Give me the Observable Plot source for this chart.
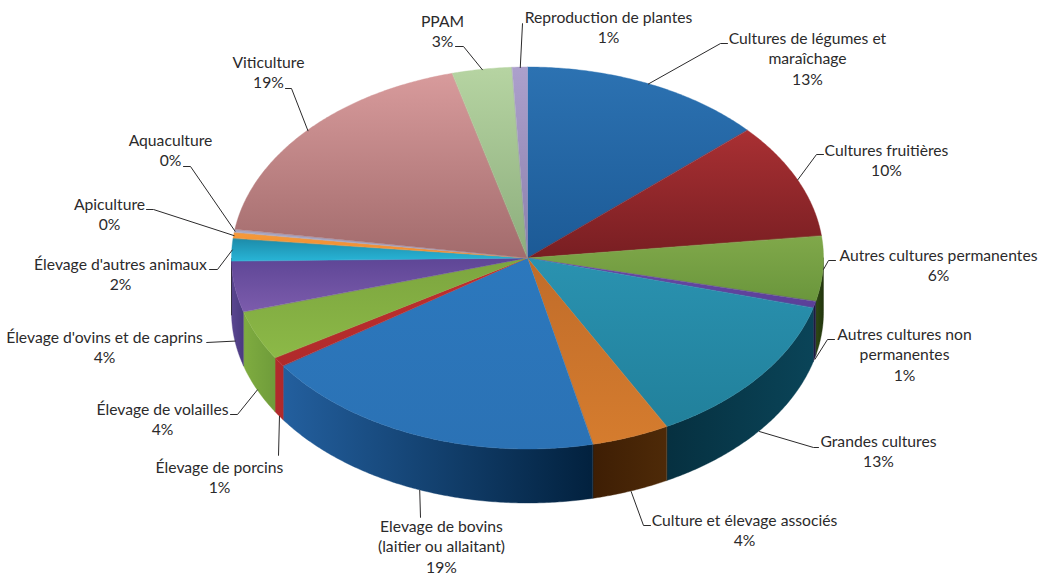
<!DOCTYPE html>
<html lang="fr">
<head>
<meta charset="utf-8">
<script src="https://cdn.jsdelivr.net/npm/d3@7"></script>
<script src="https://cdn.jsdelivr.net/npm/@observablehq/plot@0.6"></script>
<style>
html,body{margin:0;padding:0;background:#fff;}
svg{display:block;}
</style>
</head>
<body>
<div id="chart"></div>
<script>
// ---- data, clockwise from 12 o'clock ----
const names = [
  "Cultures de légumes et\nmaraîchage","Cultures fruitières","Autres cultures permanentes",
  "Autres cultures non\npermanentes","Grandes cultures","Culture et élevage associés",
  "Elevage de bovins\n(laitier ou allaitant)","Élevage de porcins","Élevage de volailles",
  "Élevage d'ovins et de caprins","Élevage d'autres animaux","Apiculture","Aquaculture",
  "Viticulture","PPAM","Reproduction de plantes"
];
const printedPercent = [13,10,6,1,13,4,19,1,4,4,2,0,0,19,3,1];
// slice shares
const shares = [13.33,9.83,5.5,0.55,13,4.25,19,0.8,4.2,4.3,1.9,0.5,0.25,18.5,3.26,0.83];

// ---- styles ----
const topColors = [
  ["#2c72b2","#1c5a96"],["#a93033","#781e22"],["#80a84a","#6a963c"],["#6a4aa6","#5a3f98"],
  ["#2a92b0","#21809b"],["#c06c2a","#d57c2e"],["#2c78bd","#2b72b5"],["#c0302f","#b02a2b"],
  ["#7ca53f","#8cb947"],["#5e4696","#7c5cac"],["#1c8aa8","#28b4d6"],["#f59a3a","#f08a30"],
  ["#a8a8c4","#a0a0c0"],["#d89b9c","#a26b6c"],["#b6d4a2","#8cad7c"],["#aca0cc","#8c80ac"]
];
const sideColors = [
  ["#000","#000"],["#000","#000"],["#2f4a14","#22340d"],["#1e1a40","#1e1a40"],
  ["#063040","#0a4458"],["#3e1e04","#4e2a08"],["#235f9e","#02213e"],["#b22a2c","#b02a2c"],
  ["#7fac40","#6f9c3a"],["#5a4690","#4a3a80"],["#000","#000"],["#000","#000"],
  ["#000","#000"],["#000","#000"],["#000","#000"],["#000","#000"]
];
const labelFont = "Lato";
const labelSize = 15.7;
const lineGap = 20.5;
const inkColor = "#2b2a2b";

// ---- pie geometry ----
const cx = 527.5, cy = 258, rx = 296, ry = 191, depth = 54;
const rimAt = (deg) => {
  const a = deg * Math.PI / 180;
  return [cx + rx * Math.sin(a), cy - ry * Math.cos(a)];
};
const total = d3.sum(shares);
let running = 0;
const wedges = shares.map((s, i) => {
  const a0 = running / total * 360;
  running += s;
  return {i, a0, a1: running / total * 360};
});
const arcSamples = (a0, a1) => {
  const n = Math.max(2, Math.ceil((a1 - a0) / 0.5));
  return d3.range(n + 1).map((k) => a0 + (a1 - a0) * k / n);
};

// ---- label layout: first-line centre, elbow and end of each leader ----
const labelLayout = [
  {x:807,y:38,elbow:[720,43],end:[727,43]},
  {x:886,y:150,elbow:[816,154],end:[823,154]},
  {x:938,y:255,elbow:[828,260],end:[835,260]},
  {x:904,y:334,elbow:[827,339],end:[834,339]},
  {x:878,y:441,elbow:[813,447],end:[818,447]},
  {x:744,y:520,elbow:[643,525],end:[650,525]},
  {x:441,y:526,elbow:[420,517],end:[420,517]},
  {x:219,y:467,elbow:[278,455],end:[278,455]},
  {x:162,y:409,elbow:[237,414],end:[230,414]},
  {x:104,y:337,elbow:[206,342],end:[206,342]},
  {x:120,y:264,elbow:[217,269],end:[209,269]},
  {x:109,y:204,elbow:[153,209],end:[146,209]},
  {x:170,y:140,elbow:[190,166],end:[183,166]},
  {x:268,y:62,elbow:[291,88],end:[285,88]},
  {x:442,y:21,elbow:[463,46],end:[455,46]},
  {x:608,y:17,elbow:[522,23],end:[522,23]}
];

// ---- mark tables ----
const textRows = names.flatMap((name, i) => {
  const lines = [...name.split("\n"), printedPercent[i] + "%"];
  return lines.map((t, k) => ({t, x: labelLayout[i].x, y: labelLayout[i].y + k * lineGap}));
});
const leaderRows = wedges.flatMap((w) => {
  const mid = (w.a0 + w.a1) / 2;
  const [sx, sy] = rimAt(mid);
  const front = Math.cos(mid * Math.PI / 180) < -0.1;
  const l = labelLayout[w.i];
  return [
    {k: w.i, x: sx, y: sy + (front ? depth : 0)},
    {k: w.i, x: l.elbow[0], y: l.elbow[1]},
    {k: w.i, x: l.end[0], y: l.end[1]}
  ];
});

const defsMark = () => {
  const defs = d3.create("svg:defs");
  wedges.forEach((w) => {
    const t = defs.append("linearGradient").attr("id", "top" + w.i)
      .attr("x1", 0).attr("y1", 0).attr("x2", 0).attr("y2", 1);
    t.append("stop").attr("offset", 0).attr("stop-color", topColors[w.i][0]);
    t.append("stop").attr("offset", 1).attr("stop-color", topColors[w.i][1]);
    const s = defs.append("linearGradient").attr("id", "side" + w.i)
      .attr("x1", 0).attr("y1", 0).attr("x2", 1).attr("y2", 0);
    s.append("stop").attr("offset", 0).attr("stop-color", sideColors[w.i][0]);
    s.append("stop").attr("offset", 1).attr("stop-color", sideColors[w.i][1]);
  });
  return defs.node();
};

const shadowArea = (drop, opacity) => Plot.area(arcSamples(0, 360), {
  x1: () => cx, y1: () => cy + drop,
  x2: (d) => rimAt(d)[0], y2: (d) => rimAt(d)[1] + drop,
  fill: "#3a2a2a", fillOpacity: opacity, ariaLabel: "pie-shadow"
});

const sideMarks = wedges
  .filter((w) => w.a1 > 90 && w.a0 < 270)
  .map((w) => Plot.area(arcSamples(Math.max(w.a0, 90), Math.min(w.a1, 270)), {
    x1: (d) => rimAt(d)[0], y1: (d) => rimAt(d)[1],
    x2: (d) => rimAt(d)[0], y2: (d) => rimAt(d)[1] + depth,
    fill: `url(#side${w.i})`, stroke: `url(#side${w.i})`, strokeWidth: 0.4
  }));

const topMarks = wedges.map((w) => Plot.area(arcSamples(w.a0, w.a1), {
  x1: () => cx, y1: () => cy,
  x2: (d) => rimAt(d)[0], y2: (d) => rimAt(d)[1],
  fill: `url(#top${w.i})`, stroke: `url(#top${w.i})`, strokeWidth: 0.4
}));

const chart = Plot.plot({
  width: 1039, height: 575,
  margin: 0,
  x: {domain: [0, 1039], range: [0, 1039], axis: null},
  y: {domain: [0, 575], range: [0, 575], axis: null},
  style: {background: "#fff"},
  marks: [
    defsMark,
    shadowArea(depth + 2, 0.65),
    shadowArea(1, 0.3),
    ...sideMarks,
    ...topMarks,
    Plot.line(leaderRows, {x: "x", y: "y", z: "k", stroke: inkColor, strokeWidth: 1, curve: "linear"}),
    Plot.text(textRows, {
      x: "x", y: "y", text: "t", textAnchor: "middle", lineAnchor: "middle",
      fontFamily: labelFont, fontSize: labelSize, fill: inkColor
    })
  ]
});
document.getElementById("chart").appendChild(chart);
chart.querySelectorAll('[aria-label="pie-shadow"]').forEach((g) => { g.style.filter = "blur(2.5px)"; });
</script>
</body>
</html>
